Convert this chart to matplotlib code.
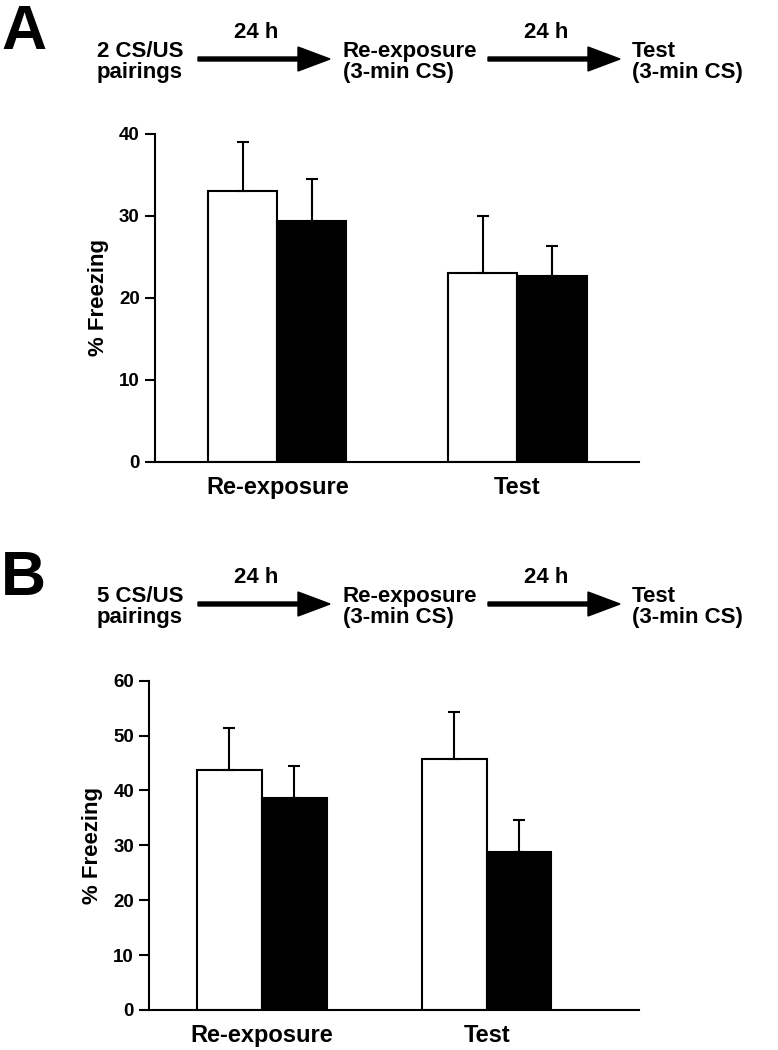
import matplotlib
matplotlib.use("Agg")
import matplotlib.pyplot as plt
from matplotlib.patches import FancyArrow
from matplotlib.transforms import IdentityTransform

plt.rcParams['font.family'] = ['Liberation Sans', 'DejaVu Sans']
plt.rcParams['font.weight'] = 'bold'

# data
categories = ['Re-exposure', 'Test']
a_white = [33.1, 23.0]
a_white_err = [5.9, 7.0]
a_black = [29.4, 22.7]
a_black_err = [5.1, 3.7]
b_white = [43.8, 45.7]
b_white_err = [7.5, 8.6]
b_black = [38.6, 28.7]
b_black_err = [5.8, 5.9]

W, H = 778, 1050
fig = plt.figure(figsize=(W / 100, H / 100), dpi=100)


def px(x, y):
    # pixel coords (top-left origin) -> figure fraction
    return x / W, 1 - y / H


def header(y0, letter, first, letter_y):
    kw = dict(fontsize=16, fontweight='bold', va='baseline')
    fig.text(*px(1, letter_y), letter, fontsize=45, fontweight='bold', va='baseline')
    fig.text(*px(97, y0), first, **kw)
    fig.text(*px(97, y0 + 21), 'pairings', **kw)
    fig.text(*px(343, y0), 'Re-exposure', **kw)
    fig.text(*px(343, y0 + 21), '(3-min CS)', **kw)
    fig.text(*px(632, y0), 'Test', **kw)
    fig.text(*px(632, y0 + 21), '(3-min CS)', **kw)
    for xa, xb in [(198, 330), (488, 620)]:
        fig.text(*px((xa + xb) / 2 - 8, y0 - 19), '24 h', ha='center', **kw)
        fig.add_artist(FancyArrow(xa, H - (y0 + 2), xb - xa, 0, width=4,
                                  head_width=24, head_length=32,
                                  length_includes_head=True, color='black',
                                  transform=IdentityTransform()))


def panel(rect, white, white_err, black, black_err, ymax, xlim):
    ax = fig.add_axes(rect)
    x = [0, 1]
    w = 0.288
    ekw = dict(elinewidth=1.5, capsize=4.5, capthick=1.5, ecolor='black')
    ax.bar([i - w / 2 for i in x], white, w, color='white', edgecolor='black',
           linewidth=1.5, yerr=[[0, 0], white_err], error_kw=ekw, zorder=2)
    ax.bar([i + w / 2 for i in x], black, w, color='black', edgecolor='black',
           linewidth=1.5, yerr=[[0, 0], black_err], error_kw=ekw, zorder=2)
    ax.set_ylim(0, ymax)
    ax.set_xlim(*xlim)
    ax.set_yticks(range(0, ymax + 1, 10))
    ax.set_xticks(x)
    ax.set_xticklabels(categories, fontsize=17, fontweight='bold')
    ax.tick_params(axis='x', length=0, pad=10)
    ax.tick_params(axis='y', length=7, width=1.5, labelsize=13.5, pad=4)
    for lab in ax.get_yticklabels():
        lab.set_fontweight('bold')
    for s in ['top', 'right']:
        ax.spines[s].set_visible(False)
    for s in ['left', 'bottom']:
        ax.spines[s].set_linewidth(1.5)
    ax.set_ylabel('% Freezing', fontsize=16, fontweight='bold')
    ax.yaxis.set_label_coords(-0.095, 0.5)
    return ax


header(57, 'A', '2 CS/US', 49)
header(602, 'B', '5 CS/US', 595)

panel([155 / W, 1 - 462 / H, (639 - 155) / W, 328 / H],
      a_white, a_white_err, a_black, a_black_err, 40, (-0.509, 1.506))
panel([149.3 / W, 1 - 1010 / H, (639 - 149.3) / W, 329.3 / H],
      b_white, b_white_err, b_black, b_black_err, 60, (-0.5, 1.677))

fig.savefig('out.png', dpi=100)
